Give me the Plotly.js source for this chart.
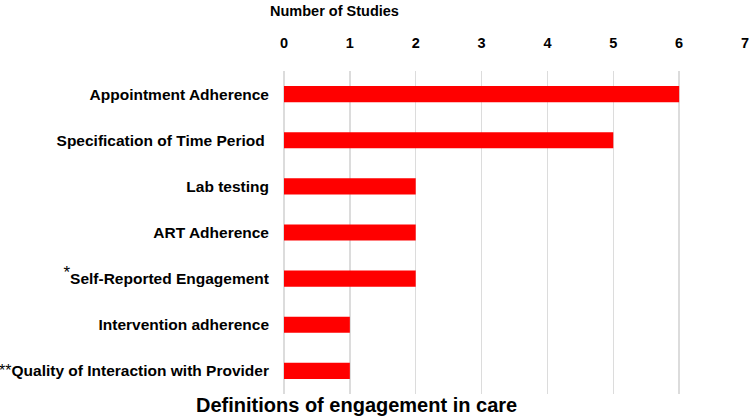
<!DOCTYPE html>
<html>
<head>
<meta charset="utf-8">
<script src="https://cdn.plot.ly/plotly-3.0.1.min.js"></script>
<style>html,body{margin:0;padding:0;background:#fff;}#chart{width:750px;height:418px;}</style>
</head>
<body>
<div id="chart"></div>
<script>
const categories = [
  "Appointment Adherence",
  "Specification of Time Period ",
  "Lab testing",
  "ART Adherence",
  "<sup><span style=\"font-size:17px;font-weight:normal\">*</span></sup>Self-Reported Engagement",
  "Intervention adherence",
  "<span style=\"font-size:16px;font-weight:normal\">**</span>Quality of Interaction with Provider"
];
const studies = [6, 5, 2, 2, 2, 1, 1];
const xTicks = [0, 1, 2, 3, 4, 5, 6, 7];

const font = "Liberation Sans, Arial, sans-serif";

Plotly.newPlot("chart", [{
  type: "bar",
  orientation: "h",
  x: studies,
  y: categories,
  width: 0.35,
  marker: {color: "#ff0000"},
  hoverinfo: "none"
}], {
  width: 750, height: 418,
  margin: {l: 284, r: 5, t: 71, b: 24},
  paper_bgcolor: "#fff", plot_bgcolor: "#fff",
  showlegend: false,
  font: {family: font, color: "#000"},
  xaxis: {
    side: "top",
    range: [0, 7],
    tickvals: xTicks,
    ticktext: xTicks.map(String),
    showgrid: true, gridcolor: "#dcdcdc", gridwidth: 1.5,
    zeroline: true, zerolinecolor: "#dcdcdc", zerolinewidth: 1.5,
    showline: false,
    ticks: "",
    ticklabelstandoff: 19,
    tickfont: {family: font, size: 14.5, color: "#000", weight: "bold"},
    fixedrange: true
  },
  yaxis: {
    autorange: "reversed",
    showgrid: false, zeroline: false, showline: false,
    ticks: "",
    ticklabelstandoff: 14,
    tickfont: {family: font, size: 15.5, color: "#000", weight: "bold"},
    fixedrange: true
  },
  annotations: [
    {text: "<b>Number of Studies</b>", xref: "paper", yref: "paper",
     x: (334 - 284) / 461, y: (418 - 11 - 24) / 323, xanchor: "center", yanchor: "middle",
     showarrow: false, font: {family: font, size: 14.5, color: "#000"}},
    {text: "<b>Definitions of engagement in care</b>", xref: "paper", yref: "paper",
     x: (356 - 284) / 461, y: (418 - 405 - 24) / 323, xanchor: "center", yanchor: "middle",
     showarrow: false, font: {family: font, size: 20, color: "#000"}}
  ]
}, {displayModeBar: false, staticPlot: true});
</script>
</body>
</html>
